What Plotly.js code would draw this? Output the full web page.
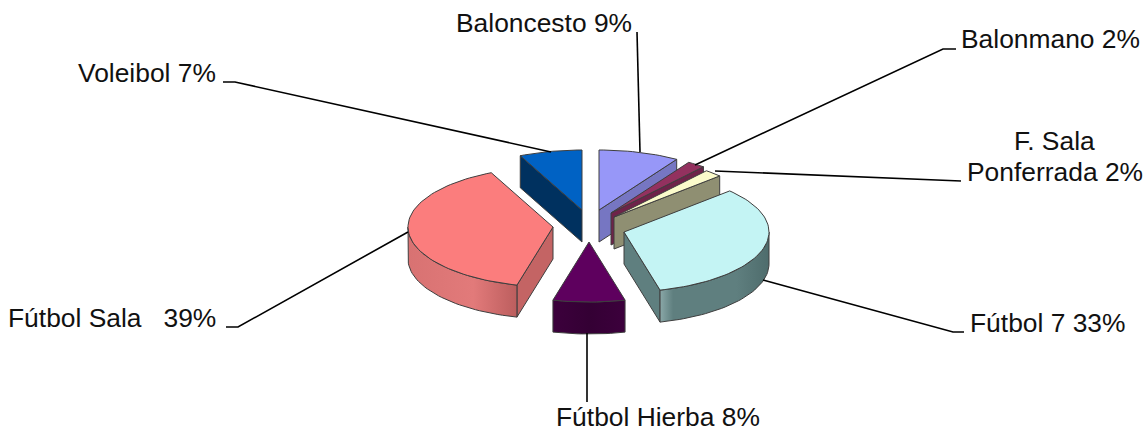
<!DOCTYPE html>
<html>
<head>
<meta charset="utf-8">
<script src="https://cdn.plot.ly/plotly-3.0.1.min.js"></script>
<style>html,body{margin:0;padding:0;background:#fff}#chart{width:1148px;height:436px}</style>
</head>
<body>
<div id="chart"></div>
<script>
// ---- data ----
const categories = ['Baloncesto', 'Balonmano', 'F. Sala Ponferrada', 'Fútbol 7', 'Fútbol Hierba', 'Fútbol Sala', 'Voleibol'];
const percents   = [9, 2, 2, 33, 8, 39, 7];

// ---- styles ----
const topColors  = ['#9797F8', '#93315F', '#FBFBCB', '#C4F4F4', '#5E005E', '#FB7D7D', '#0062C4'];
const wallColors = ['#7676C2', '#6E2349', '#8F8F72', '#5F7F7F', '#3A003A', '#C46464', '#00315F'];
const arcGradients = [
  null, null, null,
  [[0, '#8AA8A8'], [0.12, '#5F7F7F'], [0.7, '#5F7F7F'], [1, '#4E6C6C']],
  [[0, '#3C003C'], [0.5, '#340034'], [1, '#3C003C']],
  [[0, '#D87272'], [0.6, '#E27A7A'], [1, '#BC5E5E']],
  null
];

// ---- layout of the exploded pie (pixels) ----
const apexX = [599, 611, 614, 624, 589, 553, 582];
const apexY = [210, 213, 217, 232, 242, 227, 210];
const radiusX = 145, radiusY = 60, depth = 32;
const drawOrder = [6, 0, 1, 2, 3, 5, 4];
const edgeColor = '#3E3E3E';

const rad = d => d * Math.PI / 180;
const total = percents.reduce((a, b) => a + b, 0);
let acc = 0;
const slices = percents.map(p => {
  const s = { start: acc / total * 360, end: (acc + p) / total * 360 };
  acc += p;
  return s;
});

const rimPoint = (i, t, dy) => [
  apexX[i] + radiusX * Math.sin(rad(t)),
  apexY[i] - radiusY * Math.cos(rad(t)) + dy
];
function arc(i, a, b, dy) {
  const n = Math.max(2, Math.ceil(Math.abs(b - a) / 2));
  const out = [];
  for (let k = 0; k <= n; k++) out.push(rimPoint(i, a + (b - a) * k / n, dy));
  return out;
}
function poly(pts, fill, gradient, name) {
  const xs = pts.map(p => p[0]).concat(pts[0][0]);
  const ys = pts.map(p => p[1]).concat(pts[0][1]);
  const t = {
    type: 'scatter', mode: 'lines', x: xs, y: ys, fill: 'toself',
    line: { color: edgeColor, width: 1 }, hoverinfo: 'text', text: name,
    showlegend: false, cliponaxis: false
  };
  if (gradient) t.fillgradient = { type: 'horizontal', colorscale: gradient };
  else t.fillcolor = fill;
  return t;
}

const traces = [];
drawOrder.forEach(i => {
  const { start, end } = slices[i];
  const name = categories[i] + ' ' + percents[i] + '%';
  const ax = apexX[i], ay = apexY[i];
  // flat cut faces that look towards the viewer
  [start, end].forEach((t, idx) => {
    const sign = idx === 0 ? -1 : 1;
    if (sign * Math.sin(rad(t)) > 1e-6) {
      const a = rimPoint(i, t, 0), b = rimPoint(i, t, depth);
      traces.push(poly([[ax, ay], a, b, [ax, ay + depth]], wallColors[i], null, name));
    }
  });
  // curved outer wall (front half of the rim only)
  const a0 = Math.max(start, 90), a1 = Math.min(end, 270);
  if (a1 > a0) {
    const upper = arc(i, a0, a1, 0), lower = arc(i, a1, a0, depth);
    traces.push(poly(upper.concat(lower), wallColors[i], arcGradients[i], name));
  }
  // top face
  traces.push(poly([[ax, ay]].concat(arc(i, start, end, 0)), topColors[i], null, name));
});

// ---- leader lines ----
const leaderLines = [
  [[640, 152], [637, 32]],
  [[695, 165], [943, 49], [956, 49]],
  [[715, 171], [945, 181], [961, 181]],
  [[763, 280], [953, 332], [964, 332]],
  [[587, 333], [587, 402]],
  [[408, 232], [238, 327], [226, 327]],
  [[551, 152], [235, 82], [223, 82]]
];
leaderLines.forEach(l => traces.push({
  type: 'scatter', mode: 'lines', x: l.map(p => p[0]), y: l.map(p => p[1]),
  line: { color: '#000000', width: 1.6 }, hoverinfo: 'skip', showlegend: false
}));

// ---- labels ----
const labelFont = { family: '"Liberation Sans", Arial, sans-serif', size: 26.4, color: '#111111' };
const labelTexts = ['Baloncesto 9%', 'Balonmano 2%', 'F. Sala', 'Ponferrada 2%', 'Fútbol 7 33%', 'Fútbol Hierba 8%', 'Fútbol Sala\u00A0\u00A0 39%', 'Voleibol 7%'];
const labelX = [456, 961, 1054, 967, 970, 556, 8, 78];
const labelY = [23, 39, 141, 172, 323, 417, 318, 73];
const labelAnchor = ['left', 'left', 'center', 'left', 'left', 'left', 'left', 'left'];
const annotations = labelTexts.map((t, i) => ({
  text: t, x: labelX[i], y: labelY[i], xref: 'x', yref: 'y',
  xanchor: labelAnchor[i], yanchor: 'middle', showarrow: false,
  font: labelFont, borderpad: 0, borderwidth: 0
}));

const layout = {
  width: 1148, height: 436,
  margin: { l: 0, r: 0, t: 0, b: 0 },
  paper_bgcolor: '#ffffff', plot_bgcolor: '#ffffff',
  xaxis: { range: [0, 1148], visible: false, fixedrange: true },
  yaxis: { range: [436, 0], visible: false, fixedrange: true },
  showlegend: false, hovermode: 'closest',
  annotations
};
Plotly.newPlot('chart', traces, layout, { displayModeBar: false, staticPlot: false });
</script>
</body>
</html>
